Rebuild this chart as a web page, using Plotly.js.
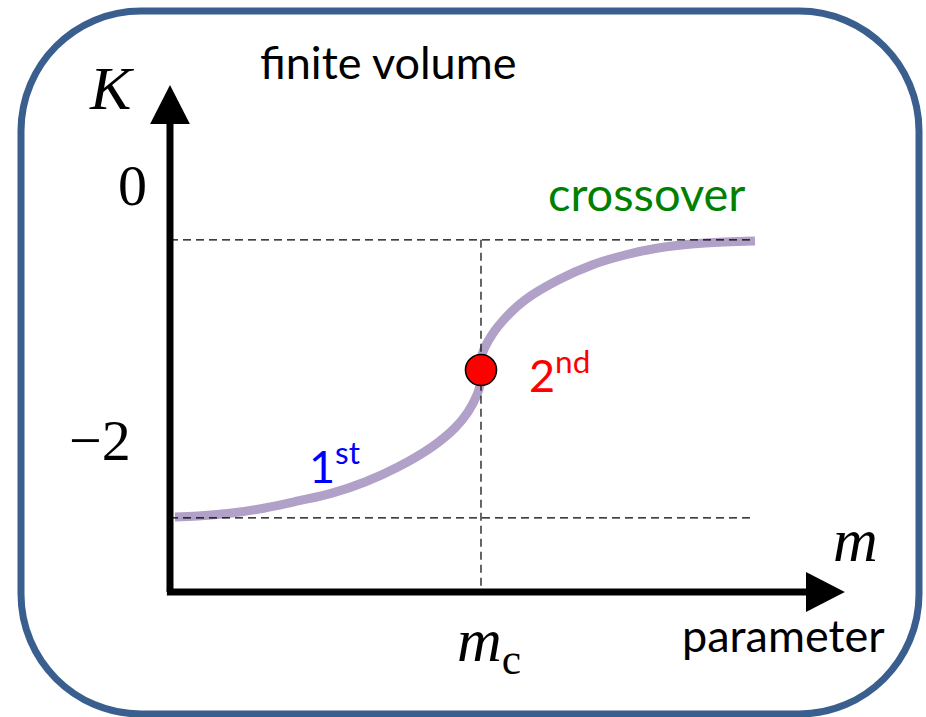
<!DOCTYPE html>
<html>
<head>
<meta charset="utf-8">
<script src="https://cdn.plot.ly/plotly-3.0.1.min.js"></script>
<style>
  html, body { margin: 0; padding: 0; background: #ffffff; }
  #chart { width: 926px; height: 717px; }
</style>
</head>
<body>
<div id="chart"></div>
<script>
// Order parameter K as a function of the control parameter m (finite volume)
const mParam  = [0.016, 0.090, 0.199, 0.305, 0.412, 0.521, 0.627, 0.733, 0.842, 0.916, 0.958, 0.987, 0.997,
                 1.000, 1.003, 1.035, 1.087, 1.141, 1.248, 1.357, 1.463, 1.569, 1.678, 1.785, 1.881];
const kValues = [-2.604, -2.596, -2.573, -2.533, -2.478, -2.416, -2.329, -2.212, -2.055, -1.906, -1.780, -1.647, -1.569,
                 -1.451, -1.333, -1.176, -1.020, -0.902, -0.745, -0.627, -0.549, -0.494, -0.463, -0.447, -0.439];

// critical point and plateau levels
const mCritical = 1.0;
const kCritical = -1.451;
const kFirstOrder = -2.61;
const kCrossover = -0.43;

// K-axis tick labels
const kTicks = [0, -2];
const kTickText = ['0', '\u22122'];

// Frame geometry
const W = 926, H = 717;
const X_RANGE = [-0.5466, 2.4309];
const Y_RANGE = [-4.1725, 1.4510];

// Axis-arrow geometry (data units)
const axisBottom = -3.192;
const axisLeft = -0.01;
const yArrowBase = 0.478, yArrowTip = 0.784, yArrowHalf = 0.064;
const xArrowBase = 2.045, xArrowTip = 2.170, xArrowHalf = 0.157;

const AXIS_W = 7;
const mathFont = { family: 'Liberation Serif, serif', size: 58, color: '#000000' };
const symbolFont = Object.assign({}, mathFont, { size: 62 });
const sansFont = { family: 'Lato, sans-serif', size: 45, color: '#000000' };

// pixel -> paper helpers for the rounded frame
const px = v => v / W;
const py = v => 1 - v / H;

function roundedRect(x0, y0, x1, y1, r) {
  const k = 0.5523 * r;
  const P = (x, y) => px(x) + ',' + py(y);
  return 'M ' + P(x0 + r, y0) +
    ' L ' + P(x1 - r, y0) +
    ' C ' + P(x1 - r + k, y0) + ' ' + P(x1, y0 + r - k) + ' ' + P(x1, y0 + r) +
    ' L ' + P(x1, y1 - r) +
    ' C ' + P(x1, y1 - r + k) + ' ' + P(x1 - r + k, y1) + ' ' + P(x1 - r, y1) +
    ' L ' + P(x0 + r, y1) +
    ' C ' + P(x0 + r - k, y1) + ' ' + P(x0, y1 - r + k) + ' ' + P(x0, y1 - r) +
    ' L ' + P(x0, y0 + r) +
    ' C ' + P(x0, y0 + r - k) + ' ' + P(x0 + r - k, y0) + ' ' + P(x0 + r, y0) + ' Z';
}

const dashStyle = { color: '#000000', width: 1.2, dash: '8px,5px' };

const traces = [
  // main curve
  {
    x: mParam, y: kValues, mode: 'lines', type: 'scatter',
    line: { color: 'rgb(177,160,199)', width: 9, shape: 'spline', smoothing: 1.0 },
    hoverinfo: 'skip'
  },
  // upper plateau guide
  {
    x: [0, mParam[mParam.length - 1]], y: [kCrossover, kCrossover],
    mode: 'lines', type: 'scatter', line: dashStyle, hoverinfo: 'skip'
  },
  // lower plateau guide
  {
    x: [0, mParam[mParam.length - 1]], y: [kFirstOrder, kFirstOrder],
    mode: 'lines', type: 'scatter', line: dashStyle, hoverinfo: 'skip'
  },
  // critical mass guide
  {
    x: [mCritical, mCritical], y: [kCrossover, axisBottom + 0.03],
    mode: 'lines', type: 'scatter', line: dashStyle, hoverinfo: 'skip'
  },
  // second-order point
  {
    x: [mCritical], y: [kCritical], mode: 'markers', type: 'scatter',
    marker: { size: 31, color: '#ff0000', line: { color: '#000000', width: 1.6 } },
    hoverinfo: 'skip'
  }
];

const shapes = [
  // rounded frame
  {
    type: 'path', xref: 'paper', yref: 'paper', layer: 'below',
    path: roundedRect(21, 11, 919, 714, 120),
    line: { color: 'rgb(58,95,143)', width: 7 }
  },
  // K axis
  {
    type: 'line', xref: 'x', yref: 'y', x0: 0, x1: 0, y0: axisBottom, y1: yArrowBase,
    line: { color: '#000000', width: AXIS_W }
  },
  {
    type: 'path', xref: 'x', yref: 'y',
    path: 'M ' + (-yArrowHalf) + ',' + yArrowBase + ' L ' + yArrowHalf + ',' + yArrowBase +
          ' L 0,' + yArrowTip + ' Z',
    fillcolor: '#000000', line: { width: 0 }
  },
  // m axis
  {
    type: 'line', xref: 'x', yref: 'y', x0: axisLeft, x1: xArrowBase, y0: axisBottom, y1: axisBottom,
    line: { color: '#000000', width: AXIS_W }
  },
  {
    type: 'path', xref: 'x', yref: 'y',
    path: 'M ' + xArrowBase + ',' + (axisBottom - xArrowHalf) + ' L ' + xArrowBase + ',' +
          (axisBottom + xArrowHalf) + ' L ' + xArrowTip + ',' + axisBottom + ' Z',
    fillcolor: '#000000', line: { width: 0 }
  }
];

const mid = { xanchor: 'center', yanchor: 'middle', showarrow: false };

const annotations = [
  Object.assign({ text: '<i>K</i>', x: -0.1865, y: 0.761, xref: 'x', yref: 'y', font: symbolFont }, mid),
  Object.assign({ text: kTickText[0], x: -0.119, y: kTicks[0], xref: 'x', yref: 'y', font: mathFont }, mid),
  Object.assign({ text: kTickText[1], x: -0.225, y: kTicks[1], xref: 'x', yref: 'y', font: mathFont }, mid),
  Object.assign({ text: '<i>m</i>', x: 2.203, y: -2.784, xref: 'x', yref: 'y', font: symbolFont }, mid),
  Object.assign({ text: '<i>m</i><sub>c</sub>', x: mCritical, y: -3.60, xref: 'x', yref: 'y', xshift: 8,
    font: symbolFont }, mid),
  Object.assign({ text: 'finite volume', x: 0.419, y: 0.9135, xref: 'paper', yref: 'paper', font: sansFont }, mid),
  Object.assign({ text: 'parameter', x: 1.974, y: -3.53, xref: 'x', yref: 'y', font: sansFont }, mid),
  Object.assign({ text: 'crossover', x: 1.531, y: -0.094, yshift: 4, xref: 'x', yref: 'y',
    font: Object.assign({}, sansFont, { color: '#008000', size: 47 }) }, mid),
  Object.assign({ text: '2<sup>nd</sup>', x: 1.148, y: -1.47, xref: 'x', yref: 'y',
    font: Object.assign({}, sansFont, { color: '#ff0000' }) }, mid, { xanchor: 'left' }),
  Object.assign({ text: '1<sup>st</sup>', x: 0.4405, y: -2.18, xref: 'x', yref: 'y',
    font: Object.assign({}, sansFont, { color: '#0000ff' }) }, mid, { xanchor: 'left' })
];

const layout = {
  width: W, height: H, autosize: false,
  margin: { l: 0, r: 0, t: 0, b: 0, pad: 0 },
  paper_bgcolor: '#ffffff', plot_bgcolor: '#ffffff',
  showlegend: false,
  xaxis: { range: X_RANGE, visible: false, fixedrange: true },
  yaxis: { range: Y_RANGE, visible: false, fixedrange: true },
  shapes: shapes,
  annotations: annotations
};

Plotly.newPlot('chart', traces, layout, { displayModeBar: false, staticPlot: true });
</script>
</body>
</html>
